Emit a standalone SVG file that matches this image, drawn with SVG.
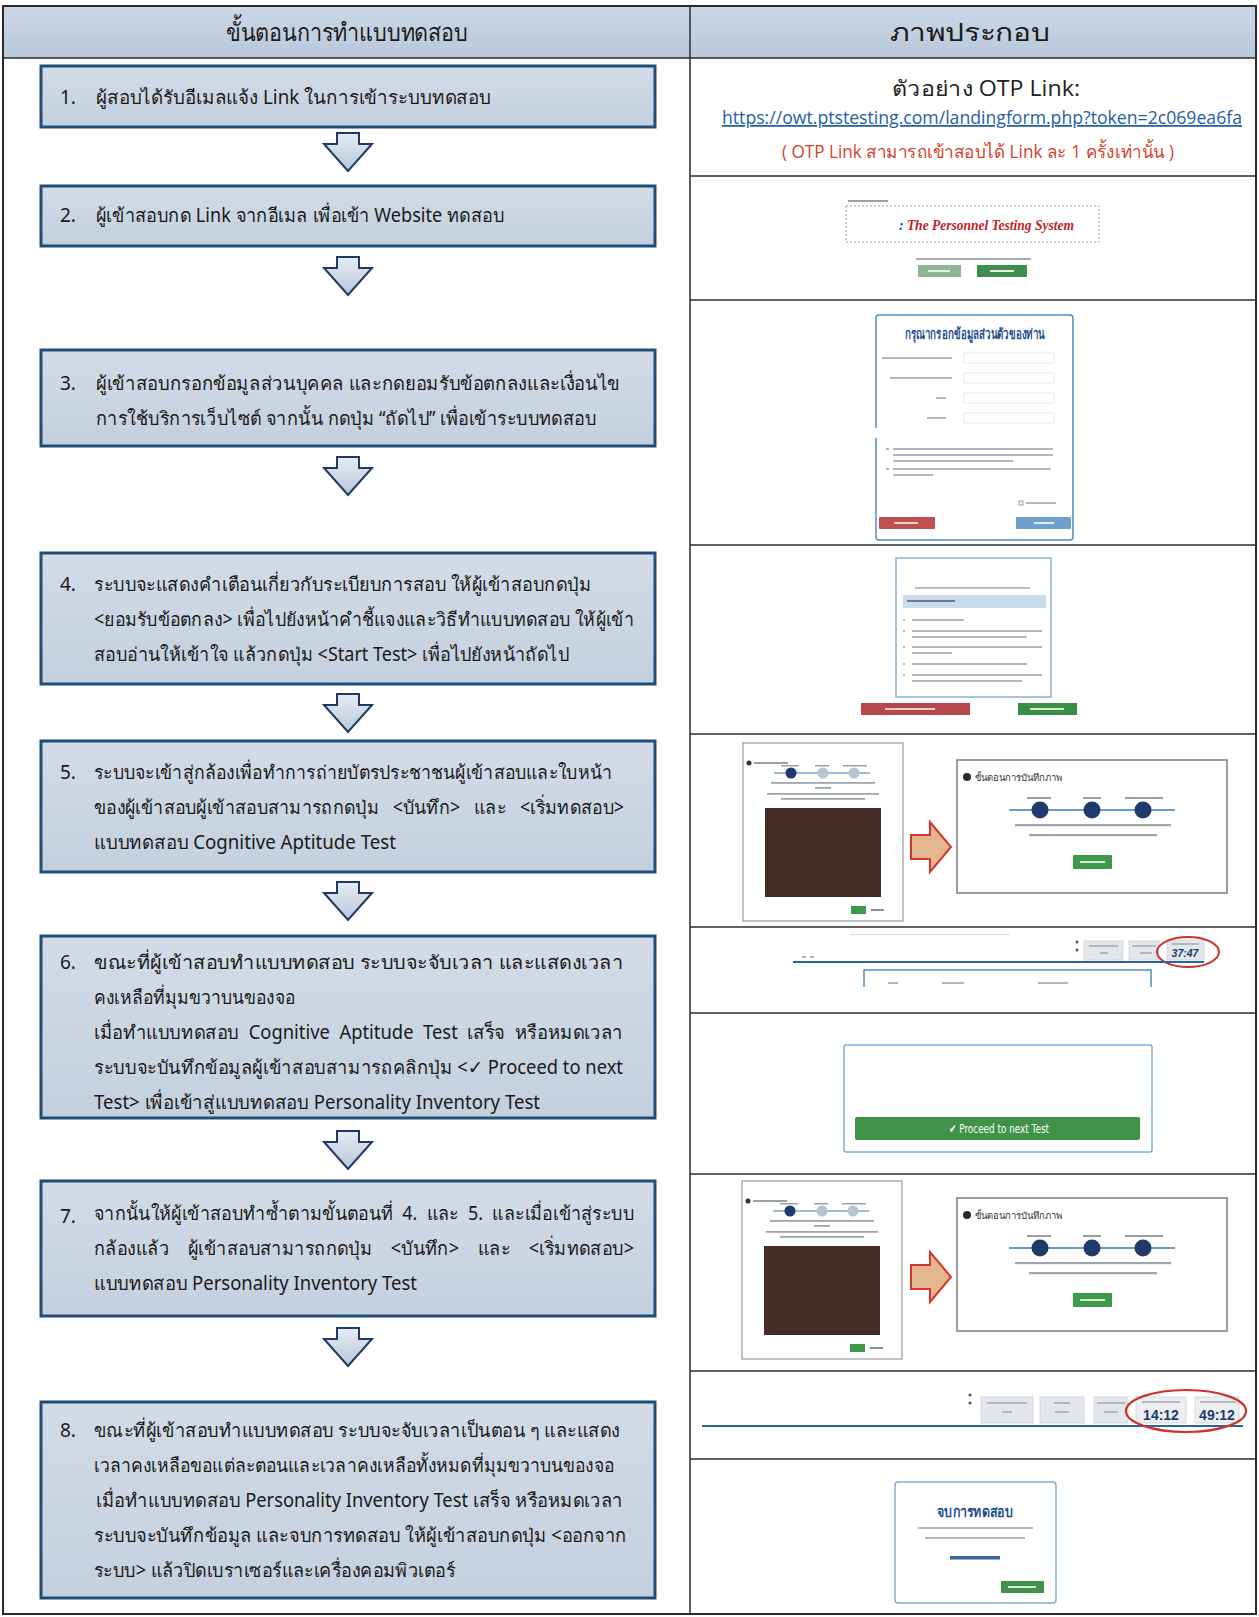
<svg xmlns="http://www.w3.org/2000/svg" width="1259" height="1617" viewBox="0 0 1259 1617">
<defs>
<linearGradient id="boxFill" x1="0" y1="0" x2="0" y2="1">
<stop offset="0" stop-color="#d3dce7"/><stop offset="1" stop-color="#c4d0de"/>
</linearGradient>
<linearGradient id="hdrFill" x1="0" y1="0" x2="0" y2="1">
<stop offset="0" stop-color="#cbd7e5"/><stop offset="1" stop-color="#b9c9db"/>
</linearGradient>
<linearGradient id="arrowFill" x1="0" y1="0" x2="0" y2="1">
<stop offset="0" stop-color="#e6ecf3"/><stop offset="1" stop-color="#b9c7d8"/>
</linearGradient>
<path id="downArrow" d="M-11,0 H11 V11 H24 L0,38 L-24,11 H-11 Z"/>
<path id="rightArrow" d="M0,13 H19 V0 L40,25 L19,50 V37 H0 Z"/>
<g id="camShot">
<rect x="0" y="0" width="160" height="178" fill="#fff" stroke="#9a9a9a" stroke-width="1.2"/>
<circle cx="6" cy="20" r="2.5" fill="#333"/>
<rect x="11" y="19" width="34" height="2" fill="#9aa0a8"/>
<rect x="38" y="22" width="18" height="1.5" fill="#9aa0a8"/>
<rect x="72" y="22" width="14" height="1.5" fill="#9aa0a8"/>
<rect x="100" y="22" width="24" height="1.5" fill="#9aa0a8"/>
<line x1="31" y1="30" x2="127" y2="30" stroke="#7aa3c8" stroke-width="1.5"/>
<circle cx="48" cy="30" r="5.5" fill="#1f3a6b"/>
<circle cx="80" cy="30" r="5.5" fill="#b6c3d1"/>
<circle cx="111" cy="30" r="5.5" fill="#b6c3d1"/>
<rect x="28" y="39" width="104" height="1.8" fill="#a0a6ae"/>
<rect x="72" y="44" width="16" height="1.8" fill="#a0a6ae"/>
<rect x="24" y="50" width="112" height="1.8" fill="#a0a6ae"/>
<rect x="38" y="55" width="84" height="1.8" fill="#a0a6ae"/>
<rect x="22" y="65" width="116" height="89" fill="#3d2b27"/>
<rect x="22" y="65" width="116" height="89" fill="#5a2e25" opacity="0.35"/>
<rect x="108" y="163" width="15" height="8" fill="#3c9a4a"/>
<rect x="128" y="166" width="13" height="2" fill="#8a9098"/>
</g>
<g id="stepCard">
<rect x="0" y="0" width="270" height="133" fill="#fff" stroke="#7d7d7d" stroke-width="1.5"/>
<circle cx="10" cy="17" r="4" fill="#2a2a2a"/>
<text x="18" y="21" class="tiny">ขั้นตอนการบันทึกภาพ</text>
<rect x="70" y="37" width="24" height="2" fill="#9aa0a8"/>
<rect x="126" y="37" width="18" height="2" fill="#9aa0a8"/>
<rect x="168" y="37" width="38" height="2" fill="#9aa0a8"/>
<line x1="52" y1="50" x2="218" y2="50" stroke="#6a9cc8" stroke-width="2"/>
<circle cx="83" cy="50" r="8.5" fill="#1f3a6b"/>
<circle cx="135" cy="50" r="8.5" fill="#1f3a6b"/>
<circle cx="186" cy="50" r="8.5" fill="#1f3a6b"/>
<rect x="58" y="64" width="156" height="2.2" fill="#a0a6ae"/>
<rect x="72" y="74" width="128" height="2.2" fill="#a0a6ae"/>
<rect x="116" y="95" width="39" height="14" rx="1" fill="#3c9a4a"/>
<rect x="123" y="101" width="25" height="2" fill="#d8eed8"/>
</g>
</defs>
<style>
.thai { font-family: 'Noto Sans', 'DejaVu Sans', sans-serif; }
.hdr { font-size: 25px; fill: #1a1a1a; text-anchor: middle; }
.step { fill: url(#boxFill); stroke: #1f4e79; stroke-width: 3; }
.st { font-family: 'Noto Sans', 'DejaVu Sans', sans-serif; font-size: 19px; fill: #1a1a1a; white-space: pre; }
.arrow { fill: url(#arrowFill); stroke: #1f3864; stroke-width: 2; stroke-linejoin: miter; }
.oarrow { fill: #e4b690; stroke: #d3362a; stroke-width: 2; }
.grid { stroke: #2b2b2b; stroke-width: 1.5; fill: none; }
.tiny { font-family: 'Noto Sans', 'DejaVu Sans', sans-serif; font-size: 9.5px; fill: #333; }
.bar { fill: #b3b8bf; }
.rt { font-family: 'Open Sans', 'Noto Sans', 'DejaVu Sans', sans-serif; }
</style>

<!-- table frame -->
<g id="table">
<rect x="3" y="6" width="1253" height="1608" fill="#fff" stroke="#2b2b2b" stroke-width="2"/>
<rect x="4" y="7" width="1251" height="51" fill="url(#hdrFill)"/>
<line class="grid" x1="3" y1="58" x2="1256" y2="58"/>
<line class="grid" x1="690" y1="6" x2="690" y2="1614"/>
<line class="grid" x1="690" y1="176" x2="1256" y2="176"/>
<line class="grid" x1="690" y1="300" x2="1256" y2="300"/>
<line class="grid" x1="690" y1="545" x2="1256" y2="545"/>
<line class="grid" x1="690" y1="734" x2="1256" y2="734"/>
<line class="grid" x1="690" y1="927" x2="1256" y2="927"/>
<line class="grid" x1="690" y1="1013" x2="1256" y2="1013"/>
<line class="grid" x1="690" y1="1174" x2="1256" y2="1174"/>
<line class="grid" x1="690" y1="1371" x2="1256" y2="1371"/>
<line class="grid" x1="690" y1="1459" x2="1256" y2="1459"/>
<text class="thai hdr" x="347" y="41" textLength="242" lengthAdjust="spacingAndGlyphs">ขั้นตอนการทำแบบทดสอบ</text>
<text class="thai hdr" x="970" y="41" font-size="26" textLength="160" lengthAdjust="spacingAndGlyphs">ภาพประกอบ</text>
</g>

<!-- connectors -->
<g id="connectors">
<use href="#downArrow" class="arrow" x="348" y="133"/>
<use href="#downArrow" class="arrow" x="348" y="257"/>
<use href="#downArrow" class="arrow" x="348" y="457"/>
<use href="#downArrow" class="arrow" x="348" y="694"/>
<use href="#downArrow" class="arrow" x="348" y="882"/>
<use href="#downArrow" class="arrow" x="348" y="1131"/>
<use href="#downArrow" class="arrow" x="348" y="1328"/>
</g>

<g id="step1">
<rect class="step" x="41" y="66" width="614" height="61"/>
<text class="st" x="60" y="104">1.</text>
<text class="st" x="96" y="104" textLength="395" lengthAdjust="spacingAndGlyphs">ผู้สอบได้รับอีเมลแจ้ง Link ในการเข้าระบบทดสอบ</text>
</g>
<g id="step2">
<rect class="step" x="41" y="186" width="614" height="60"/>
<text class="st" x="60" y="222">2.</text>
<text class="st" x="96" y="222" textLength="408" lengthAdjust="spacingAndGlyphs">ผู้เข้าสอบกด Link จากอีเมล เพื่อเข้า Website ทดสอบ</text>
</g>
<g id="step3">
<rect class="step" x="41" y="350" width="614" height="96"/>
<text class="st" x="60" y="390">3.</text>
<text class="st" x="96" y="390" textLength="524" lengthAdjust="spacingAndGlyphs">ผู้เข้าสอบกรอกข้อมูลส่วนบุคคล และกดยอมรับข้อตกลงและเงื่อนไข</text>
<text class="st" x="96" y="425" textLength="500" lengthAdjust="spacingAndGlyphs">การใช้บริการเว็บไซต์ จากนั้น กดปุ่ม “ถัดไป” เพื่อเข้าระบบทดสอบ</text>
</g>
<g id="step4">
<rect class="step" x="41" y="553" width="614" height="131"/>
<text class="st" x="60" y="591">4.</text>
<text class="st" x="94" y="591" textLength="497" lengthAdjust="spacingAndGlyphs">ระบบจะแสดงคำเตือนเกี่ยวกับระเบียบการสอบ ให้ผู้เข้าสอบกดปุ่ม</text>
<text class="st" x="94" y="626" textLength="540" lengthAdjust="spacingAndGlyphs">&lt;ยอมรับข้อตกลง&gt; เพื่อไปยังหน้าคำชี้แจงและวิธีทำแบบทดสอบ ให้ผู้เข้า</text>
<text class="st" x="94" y="661" textLength="475" lengthAdjust="spacingAndGlyphs">สอบอ่านให้เข้าใจ แล้วกดปุ่ม &lt;Start Test&gt; เพื่อไปยังหน้าถัดไป</text>
</g>
<g id="step5">
<rect class="step" x="41" y="741" width="614" height="131"/>
<text class="st" x="60" y="779">5.</text>
<text class="st" x="94" y="779" textLength="518" lengthAdjust="spacingAndGlyphs">ระบบจะเข้าสู่กล้องเพื่อทำการถ่ายบัตรประชาชนผู้เข้าสอบและใบหน้า</text>
<text class="st" x="94" y="814" xml:space="preserve" textLength="530" lengthAdjust="spacingAndGlyphs">ของผู้เข้าสอบผู้เข้าสอบสามารถกดปุ่ม   &lt;บันทึก&gt;   และ   &lt;เริ่มทดสอบ&gt;</text>
<text class="st" x="94" y="849" textLength="302" lengthAdjust="spacingAndGlyphs">แบบทดสอบ Cognitive Aptitude Test</text>
</g>
<g id="step6">
<rect class="step" x="41" y="936" width="614" height="182"/>
<text class="st" x="60" y="969">6.</text>
<text class="st" x="94" y="969" textLength="529" lengthAdjust="spacingAndGlyphs">ขณะที่ผู้เข้าสอบทำแบบทดสอบ ระบบจะจับเวลา และแสดงเวลา</text>
<text class="st" x="94" y="1004" textLength="201" lengthAdjust="spacingAndGlyphs">คงเหลือที่มุมขวาบนของจอ</text>
<text class="st" x="94" y="1039" xml:space="preserve" textLength="529" lengthAdjust="spacingAndGlyphs">เมื่อทำแบบทดสอบ  Cognitive  Aptitude  Test  เสร็จ  หรือหมดเวลา</text>
<text class="st" x="94" y="1074" xml:space="preserve" textLength="529" lengthAdjust="spacingAndGlyphs">ระบบจะบันทึกข้อมูลผู้เข้าสอบสามารถคลิกปุ่ม &lt;✓ Proceed to next</text>
<text class="st" x="94" y="1109" textLength="446" lengthAdjust="spacingAndGlyphs">Test&gt; เพื่อเข้าสู่แบบทดสอบ Personality Inventory Test</text>
</g>
<g id="step7">
<rect class="step" x="41" y="1181" width="614" height="135"/>
<text class="st" x="60" y="1223">7.</text>
<text class="st" x="94" y="1220" xml:space="preserve" textLength="540" lengthAdjust="spacingAndGlyphs">จากนั้นให้ผู้เข้าสอบทำซ้ำตามขั้นตอนที่  4.  และ  5.  และเมื่อเข้าสู่ระบบ</text>
<text class="st" x="94" y="1255" xml:space="preserve" textLength="540" lengthAdjust="spacingAndGlyphs">กล้องแล้ว    ผู้เข้าสอบสามารถกดปุ่ม    &lt;บันทึก&gt;    และ    &lt;เริ่มทดสอบ&gt;</text>
<text class="st" x="94" y="1290" textLength="323" lengthAdjust="spacingAndGlyphs">แบบทดสอบ Personality Inventory Test</text>
</g>
<g id="step8">
<rect class="step" x="41" y="1402" width="614" height="196"/>
<text class="st" x="60" y="1437">8.</text>
<text class="st" x="94" y="1437" textLength="526" lengthAdjust="spacingAndGlyphs">ขณะที่ผู้เข้าสอบทำแบบทดสอบ ระบบจะจับเวลาเป็นตอน ๆ และแสดง</text>
<text class="st" x="94" y="1472" textLength="520" lengthAdjust="spacingAndGlyphs">เวลาคงเหลือขอแต่ละตอนและเวลาคงเหลือทั้งหมดที่มุมขวาบนของจอ</text>
<text class="st" x="96" y="1507" textLength="527" lengthAdjust="spacingAndGlyphs">เมื่อทำแบบทดสอบ Personality Inventory Test เสร็จ หรือหมดเวลา</text>
<text class="st" x="94" y="1542" textLength="533" lengthAdjust="spacingAndGlyphs">ระบบจะบันทึกข้อมูล และจบการทดสอบ ให้ผู้เข้าสอบกดปุ่ม &lt;ออกจาก</text>
<text class="st" x="94" y="1577" textLength="361" lengthAdjust="spacingAndGlyphs">ระบบ&gt; แล้วปิดเบราเซอร์และเครื่องคอมพิวเตอร์</text>
</g>

<!-- illustrations -->
<g id="img1">
<text class="rt" x="986" y="96" font-size="21" fill="#222" text-anchor="middle" textLength="188" lengthAdjust="spacingAndGlyphs">ตัวอย่าง OTP Link:</text>
<text class="rt" x="982" y="124" font-size="17.5" fill="#1f5ea8" text-anchor="middle" text-decoration="underline" textLength="520" lengthAdjust="spacingAndGlyphs">https://owt.ptstesting.com/landingform.php?token=2c069ea6fa</text>
<text class="rt" x="978" y="158" font-size="18" fill="#d8402b" text-anchor="middle" textLength="392" lengthAdjust="spacingAndGlyphs">( OTP Link สามารถเข้าสอบได้ Link ละ 1 ครั้งเท่านั้น )</text>
</g>

<g id="img2">
<rect x="848" y="200" width="40" height="2" fill="#9aa0a8"/>
<rect x="846" y="206" width="253" height="36" fill="#fff" stroke="#8aa4c0" stroke-width="1" stroke-dasharray="2,2"/>
<text x="899" y="230" font-family="'Liberation Serif', serif" font-size="15.5" font-weight="bold" font-style="italic" fill="#c0232b" textLength="175" lengthAdjust="spacingAndGlyphs"><tspan fill="#1f3a6b">:</tspan> The Personnel Testing System</text>
<rect x="916" y="258" width="115" height="2" fill="#a8adb4"/>
<rect x="918" y="265" width="43" height="12" fill="#8fb595"/>
<rect x="977" y="265" width="50" height="12" fill="#3f8e50"/>
<rect x="928" y="270" width="22" height="2" fill="#e6efe6"/>
<rect x="990" y="270" width="24" height="2" fill="#e6efe6"/>
</g>

<g id="img3">
<rect x="876" y="315" width="197" height="225" rx="3" fill="#fff" stroke="#4f8fc5" stroke-width="1.5"/>
<text x="975" y="339" font-family="'Noto Sans', 'DejaVu Sans', sans-serif" font-size="14.5" font-weight="bold" fill="#1f4e8c" text-anchor="middle" textLength="140" lengthAdjust="spacingAndGlyphs">กรุณากรอกข้อมูลส่วนตัวของท่าน</text>
<rect x="882" y="357" width="70" height="2" class="bar"/>
<rect x="890" y="377" width="62" height="2" class="bar"/>
<rect x="936" y="397" width="10" height="2" class="bar"/>
<rect x="927" y="417" width="19" height="2" class="bar"/>
<rect x="964" y="353" width="90" height="10" fill="none" stroke="#e8eaed" stroke-width="1"/>
<rect x="964" y="373" width="90" height="10" fill="none" stroke="#e8eaed" stroke-width="1"/>
<rect x="964" y="393" width="90" height="10" fill="none" stroke="#e8eaed" stroke-width="1"/>
<rect x="964" y="413" width="90" height="10" fill="none" stroke="#e8eaed" stroke-width="1"/>
<rect x="874" y="428" width="12" height="10" fill="#fff"/>
<rect x="886" y="448" width="3" height="2" class="bar"/>
<rect x="893" y="448" width="160" height="2" class="bar"/>
<rect x="893" y="454" width="160" height="2" class="bar"/>
<rect x="893" y="460" width="120" height="2" class="bar"/>
<rect x="886" y="468" width="3" height="2" class="bar"/>
<rect x="893" y="468" width="158" height="2" class="bar"/>
<rect x="893" y="474" width="40" height="2" class="bar"/>
<rect x="1019" y="501" width="4" height="4" fill="none" stroke="#888" stroke-width="0.8"/>
<rect x="1026" y="502" width="30" height="2" class="bar"/>
<rect x="879" y="517" width="56" height="12" rx="1" fill="#c0504d"/>
<rect x="1016" y="517" width="55" height="12" rx="1" fill="#6f9fcb"/>
<rect x="894" y="522" width="24" height="2" fill="#f0d0d0"/>
<rect x="1034" y="522" width="20" height="2" fill="#e0ecf6"/>
</g>

<g id="img4">
<rect x="896" y="558" width="155" height="139" fill="#fff" stroke="#8ab0d0" stroke-width="1.5"/>
<rect x="915" y="587" width="115" height="1.8" class="bar"/>
<rect x="903" y="595" width="143" height="13" fill="#c9dcef"/>
<rect x="907" y="600" width="48" height="2" fill="#6c7a8a"/>
<rect x="903" y="619" width="2" height="2" class="bar"/>
<rect x="912" y="619" width="52" height="2" class="bar"/>
<rect x="903" y="630" width="2" height="2" class="bar"/>
<rect x="912" y="630" width="130" height="2" class="bar"/>
<rect x="912" y="636" width="115" height="2" class="bar"/>
<rect x="903" y="646" width="2" height="2" class="bar"/>
<rect x="912" y="646" width="130" height="2" class="bar"/>
<rect x="912" y="652" width="40" height="2" class="bar"/>
<rect x="903" y="663" width="2" height="2" class="bar"/>
<rect x="912" y="663" width="115" height="2" class="bar"/>
<rect x="903" y="674" width="2" height="2" class="bar"/>
<rect x="912" y="674" width="130" height="2" class="bar"/>
<rect x="912" y="680" width="110" height="2" class="bar"/>
<rect x="861" y="703" width="109" height="12" fill="#b7474a"/>
<rect x="1018" y="703" width="59" height="12" fill="#3b8e45"/>
<rect x="885" y="708" width="50" height="2" fill="#f0d0d0"/>
<rect x="1030" y="708" width="34" height="2" fill="#d8eed8"/>
</g>

<g id="img5">
<use href="#camShot" x="743" y="743"/>
<use href="#rightArrow" class="oarrow" x="911" y="822"/>
<use href="#stepCard" x="957" y="760"/>
</g>

<g id="img6a">
<rect x="850" y="934" width="160" height="1" fill="#d8dadd"/>
<circle cx="1077" cy="942" r="1.5" fill="#555"/>
<circle cx="1077" cy="950" r="1.5" fill="#555"/>
<rect x="1084" y="941" width="39" height="19" fill="#e3e6ea" stroke="#cfd3d8" stroke-width="0.8"/>
<rect x="1089" y="945" width="29" height="2" class="bar"/>
<rect x="1100" y="952" width="8" height="2" class="bar"/>
<rect x="1129" y="941" width="30" height="19" fill="#e3e6ea" stroke="#cfd3d8" stroke-width="0.8"/>
<rect x="1132" y="945" width="24" height="2" class="bar"/>
<rect x="1140" y="952" width="12" height="2" class="bar"/>
<rect x="1167" y="940" width="37" height="20" fill="#e3e6ea" stroke="#cfd3d8" stroke-width="0.8"/>
<rect x="1172" y="943" width="27" height="2" class="bar"/>
<text x="1185" y="957" font-family="'Liberation Sans', sans-serif" font-size="10.5" font-weight="bold" font-style="italic" fill="#1f3a6b" text-anchor="middle">37:47</text>
<ellipse cx="1188" cy="952" rx="31" ry="15" fill="none" stroke="#d0322a" stroke-width="2"/>
<line x1="793" y1="962" x2="1204" y2="962" stroke="#2a62a0" stroke-width="2"/>
<rect x="802" y="956" width="4" height="2" class="bar"/>
<rect x="810" y="956" width="4" height="2" class="bar"/>
<path d="M864,987 V970 H1151 V987" fill="none" stroke="#4f8fc5" stroke-width="1.5"/>
<rect x="888" y="982" width="10" height="2" class="bar"/>
<rect x="942" y="982" width="22" height="2" class="bar"/>
<rect x="1038" y="982" width="30" height="2" class="bar"/>
</g>

<g id="img6b">
<rect x="844" y="1045" width="308" height="107" rx="2" fill="#fff" stroke="#7fb0d8" stroke-width="1.5"/>
<rect x="855" y="1117" width="285" height="23" rx="2" fill="#3f9248"/>
<text x="999" y="1133" font-family="'DejaVu Sans', sans-serif" font-size="12" fill="#fff" text-anchor="middle" textLength="100" lengthAdjust="spacingAndGlyphs">✔ Proceed to next Test</text>
</g>

<g id="img7">
<use href="#camShot" x="742" y="1181"/>
<use href="#rightArrow" class="oarrow" x="911" y="1252"/>
<use href="#stepCard" x="957" y="1198"/>
</g>

<g id="img8a">
<circle cx="970" cy="1395" r="1.5" fill="#555"/>
<circle cx="970" cy="1403" r="1.5" fill="#555"/>
<rect x="981" y="1397" width="52" height="26" fill="#e3e6ea" stroke="#cfd3d8" stroke-width="0.8"/>
<rect x="987" y="1402" width="40" height="2" class="bar"/>
<rect x="1002" y="1411" width="10" height="2" class="bar"/>
<rect x="1040" y="1397" width="44" height="26" fill="#e3e6ea" stroke="#cfd3d8" stroke-width="0.8"/>
<rect x="1054" y="1402" width="16" height="2" class="bar"/>
<rect x="1055" y="1411" width="14" height="2" class="bar"/>
<rect x="1094" y="1397" width="34" height="26" fill="#e3e6ea" stroke="#cfd3d8" stroke-width="0.8"/>
<rect x="1097" y="1402" width="28" height="2" class="bar"/>
<rect x="1104" y="1411" width="14" height="2" class="bar"/>
<rect x="1136" y="1397" width="50" height="26" fill="#eceef1" stroke="#cfd3d8" stroke-width="0.8"/>
<rect x="1142" y="1401" width="38" height="2" class="bar"/>
<text x="1161" y="1420" font-family="'Liberation Sans', sans-serif" font-size="14" font-weight="bold" fill="#1f3a6b" text-anchor="middle">14:12</text>
<rect x="1195" y="1397" width="44" height="26" fill="#eceef1" stroke="#cfd3d8" stroke-width="0.8"/>
<rect x="1200" y="1401" width="36" height="2" class="bar"/>
<text x="1217" y="1420" font-family="'Liberation Sans', sans-serif" font-size="14" font-weight="bold" fill="#1f3a6b" text-anchor="middle">49:12</text>
<line x1="702" y1="1426" x2="1243" y2="1426" stroke="#2a62a0" stroke-width="2"/>
<ellipse cx="1186" cy="1411" rx="60" ry="21" fill="none" stroke="#d0322a" stroke-width="2.2"/>
</g>

<g id="img8b">
<rect x="895" y="1482" width="161" height="121" rx="3" fill="#fff" stroke="#7fb0d8" stroke-width="1.5"/>
<text x="975" y="1517" font-family="'Noto Sans', 'DejaVu Sans', sans-serif" font-size="15" font-weight="bold" fill="#1f4e8c" text-anchor="middle" textLength="76" lengthAdjust="spacingAndGlyphs">จบการทดสอบ</text>
<rect x="918" y="1527" width="115" height="2" class="bar"/>
<rect x="925" y="1537" width="100" height="2" class="bar"/>
<rect x="950" y="1556" width="50" height="3.5" fill="#3f63a0"/>
<rect x="1001" y="1581" width="43" height="12" rx="1" fill="#3f9248"/>
<rect x="1008" y="1586" width="28" height="2" fill="#d8eed8"/>
</g>
</svg>
